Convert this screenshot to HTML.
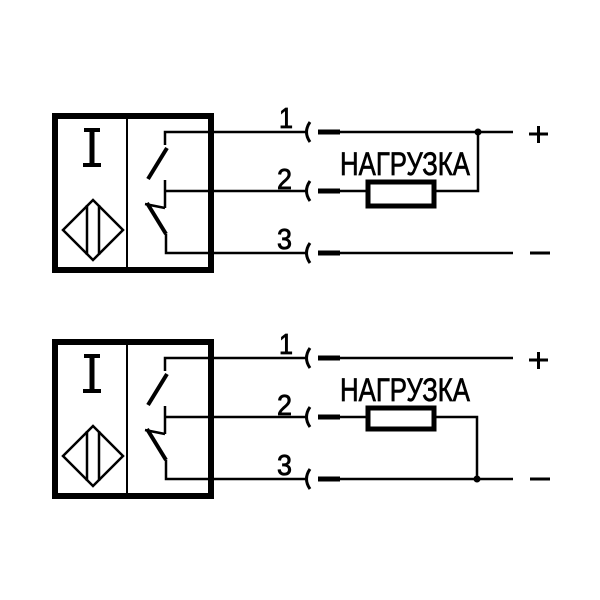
<!DOCTYPE html>
<html><head><style>html,body{margin:0;padding:0;background:#fff}svg{display:block}</style></head>
<body>
<svg width="600" height="600" viewBox="0 0 600 600" xmlns="http://www.w3.org/2000/svg">
<defs>
<g id="sensor" stroke="#000" fill="none">
  <rect x="55" y="116" width="156" height="154" stroke-width="6"/>
  <line x1="127" y1="116" x2="127" y2="270" stroke-width="2"/>
  <line x1="92" y1="129" x2="92" y2="166" stroke-width="5"/>
  <line x1="84" y1="130" x2="100" y2="130" stroke-width="4"/>
  <line x1="83" y1="165" x2="101" y2="165" stroke-width="4"/>
  <polygon points="93,200 123,230 93,260 63,230" stroke-width="2.5"/>
  <line x1="87" y1="205" x2="87" y2="255" stroke-width="2.5"/>
  <line x1="99" y1="205" x2="99" y2="255" stroke-width="2.5"/>
  <polyline points="165,145 165,132 308,132" stroke-width="2.5"/>
  <line x1="148" y1="179" x2="167" y2="148" stroke-width="4"/>
  <polyline points="165,180 165,208 " stroke-width="2.5"/>
  <line x1="165" y1="191" x2="308" y2="191" stroke-width="2.5"/>
  <line x1="147" y1="203" x2="166" y2="234" stroke-width="4"/>
  <line x1="145" y1="204" x2="165" y2="208" stroke-width="2.5"/>
  <polyline points="166,234 166,253 308,253" stroke-width="2.5"/>
  <path d="M310,122 Q303,132 310,142" stroke-width="3"/>
  <path d="M310,181 Q303,191 310,201" stroke-width="3"/>
  <path d="M310,243 Q303,253 310,263" stroke-width="3"/>
  <line x1="318" y1="132" x2="340" y2="132" stroke-width="5"/>
  <line x1="318" y1="191" x2="340" y2="191" stroke-width="5"/>
  <line x1="318" y1="253" x2="340" y2="253" stroke-width="5"/>
  <line x1="340" y1="132" x2="513" y2="132" stroke-width="2.5"/>
  <line x1="340" y1="253" x2="513" y2="253" stroke-width="2.5"/>
  <line x1="530" y1="253" x2="550" y2="253" stroke-width="3"/>
  <line x1="529" y1="134" x2="548" y2="134" stroke-width="3"/>
  <line x1="538.5" y1="126" x2="538.5" y2="143" stroke-width="3"/>
</g>
</defs>

<use href="#sensor"/>
<g fill="#000" stroke="#000" stroke-width="0.8" font-family="Liberation Sans, sans-serif" font-size="29">
  <text x="279" y="128" textLength="14" lengthAdjust="spacingAndGlyphs">1</text>
  <text x="277" y="189" textLength="15" lengthAdjust="spacingAndGlyphs">2</text>
  <text x="277" y="249" textLength="15" lengthAdjust="spacingAndGlyphs">3</text>
  <text x="279" y="354" textLength="14" lengthAdjust="spacingAndGlyphs">1</text>
  <text x="277" y="415" textLength="15" lengthAdjust="spacingAndGlyphs">2</text>
  <text x="277" y="475" textLength="15" lengthAdjust="spacingAndGlyphs">3</text>
</g>
<g stroke="#000" fill="none">
  <line x1="340" y1="191" x2="367" y2="191" stroke-width="2.5"/>
  <rect x="368" y="182" width="66" height="24" stroke-width="5"/>
  <polyline points="436,191 478,191 478,132" stroke-width="2.5"/>
</g>
<circle cx="478" cy="132" r="3.5" fill="#000"/>
<text x="340" y="175" font-family="Liberation Sans, sans-serif" font-size="32" stroke="#000" stroke-width="0.7" textLength="130" lengthAdjust="spacingAndGlyphs">НАГРУЗКА</text>

<g transform="translate(0,226)">
  <use href="#sensor"/>
  <g stroke="#000" fill="none">
    <line x1="340" y1="191" x2="367" y2="191" stroke-width="2.5"/>
    <rect x="368" y="182" width="66" height="21" stroke-width="5"/>
    <polyline points="436,191 477,191 477,253" stroke-width="2.5"/>
  </g>
  <circle cx="477" cy="253" r="3.5" fill="#000"/>
  <text x="340" y="175" font-family="Liberation Sans, sans-serif" font-size="32" stroke="#000" stroke-width="0.7" textLength="130" lengthAdjust="spacingAndGlyphs">НАГРУЗКА</text>
</g>
</svg>
</body></html>
